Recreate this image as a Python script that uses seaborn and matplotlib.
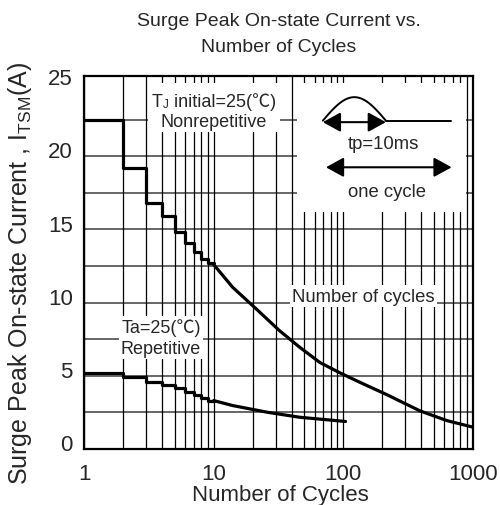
import numpy as np
import pandas as pd
import matplotlib
matplotlib.use("Agg")
import matplotlib.pyplot as plt
import matplotlib.transforms as mtransforms
from matplotlib.patches import Rectangle
import seaborn as sns

# values
nonrep_step_cycles = [1, 2, 3, 4, 5, 6, 7, 8, 9, 10]
nonrep_step_current = [22.5, 19.2, 16.8, 15.9, 14.85, 14.05, 13.45, 13.0, 12.7, 12.7]
nonrep_cycles = [10, 14, 22, 32, 46, 66, 94, 134, 217, 389, 629, 1000]
nonrep_current = [12.6, 11.05, 9.45, 8.1, 6.95, 5.9, 5.2, 4.55, 3.7, 2.6, 1.93, 1.48]

rep_step_cycles = [1, 2, 3, 4, 5, 6, 7, 8, 9, 10]
rep_step_current = [5.2, 4.9, 4.6, 4.35, 4.15, 3.9, 3.7, 3.45, 3.3, 3.3]
rep_cycles = [10, 14, 26, 46, 104]
rep_current = [3.3, 2.96, 2.5, 2.16, 1.87]

y_ticks = [0, 5, 10, 15, 20, 25]
y_grid = [2.5, 5, 7.5, 10, 12.5, 15, 17.5, 20, 22.5]
x_ticks = [1, 10, 100, 1000]
x_ticklabels = ["1", "10", "100", "1000"]

sns.set_style("white")
plt.rcParams["font.family"] = ["Liberation Sans", "Noto Sans CJK SC", "DejaVu Sans"]
plt.rcParams["mathtext.default"] = "regular"

fig = plt.figure(figsize=(5, 5.06), dpi=100)
ax = fig.add_axes([0.168, 0.111, 0.778, 0.737])

lw = 2.3
sns.lineplot(x=nonrep_step_cycles, y=nonrep_step_current, drawstyle="steps-post",
             color="black", lw=lw, ax=ax, errorbar=None, zorder=5)
sns.lineplot(x=nonrep_cycles, y=nonrep_current, color="black", lw=lw, ax=ax,
             errorbar=None, zorder=5)
sns.lineplot(x=rep_step_cycles, y=rep_step_current, drawstyle="steps-post",
             color="black", lw=lw, ax=ax, errorbar=None, zorder=5)
sns.lineplot(x=rep_cycles, y=rep_current, color="black", lw=lw, ax=ax,
             errorbar=None, zorder=5)

ax.set_xscale("log")
ax.set_xlim(1, 1000)
ax.set_ylim(0, 25.5)
ax.set_xticks(x_ticks)
ax.set_xticklabels(x_ticklabels)
ax.set_yticks(y_ticks)
ax.tick_params(axis="both", which="both", length=0, labelsize=16)
ax.tick_params(axis="x", pad=10)
ax.tick_params(axis="y", pad=8)

# grid
ax.grid(True, which="both", axis="x", color="black", lw=0.9)
ax.grid(False, axis="y")
for g in y_grid:
    ax.axhline(g, color="#5a5a5a", lw=1.3, zorder=0.5)
ax.set_axisbelow(True)

for s in ax.spines.values():
    s.set_color("black")
    s.set_linewidth(1.6)

# nudge y tick labels upward a little
offset = mtransforms.ScaledTranslation(0, 5 / 72, fig.dpi_scale_trans)
for lab in ax.get_yticklabels():
    lab.set_transform(lab.get_transform() + offset)

ax.set_title("Surge Peak On-state Current vs.\nNumber of Cycles", fontsize=14,
             pad=18, linespacing=1.7)
ax.set_xlabel("Number of Cycles", fontsize=16)
ax.set_ylabel("Surge Peak On-state Current , I$_{TSM}$(A)", fontsize=18)
ax.xaxis.set_label_coords(0.506, -0.093)
ax.yaxis.set_label_coords(-0.129, 0.474)

# white boxes behind the inset sketch and the T_J note
ax.add_patch(Rectangle((44, 16.2), 890 - 44, 25 - 16.2, facecolor="white",
                       edgecolor="none", zorder=2))
ax.add_patch(Rectangle((3.11, 21.65), 32.5 - 3.11, 25 - 21.65, facecolor="white",
                       edgecolor="none", zorder=2))

bbox = dict(facecolor="white", edgecolor="none", pad=1.5)

t1 = ax.text(3.35, 23.45, "T", ha="left", va="baseline", fontsize=13, zorder=4)
t2 = ax.annotate("J", xy=(1, 0), xycoords=t1, ha="left", va="bottom",
                 fontsize=8.5, zorder=4)
ax.annotate(" initial=25(℃)", xy=(1, 0), xycoords=(t2, t1), ha="left",
            va="bottom", fontsize=13, zorder=4)
ax.text(10, 22.4, "Nonrepetitive", ha="center", va="center", fontsize=13, zorder=4)

ax.text(3.92, 7.6, "Ta=25(℃)\nRepetitive", ha="center", va="center",
        fontsize=13, bbox=bbox, zorder=3, linespacing=1.25)
ax.text(143, 10.45, "Number of cycles", ha="center", va="center",
        fontsize=13.3, bbox=bbox, zorder=3)

# waveform sketch in the inset (axes fraction)
t = np.linspace(0, np.pi, 60)
wx = 0.614 + (0.776 - 0.614) * t / np.pi
wy = 0.880 + 0.063 * np.sin(t)
ax.plot(wx, wy, color="black", lw=1.4, transform=ax.transAxes, zorder=4)
ax.plot([0.776, 0.943], [0.880, 0.880], color="black", lw=1.4,
        transform=ax.transAxes, zorder=4)

arrow = dict(arrowstyle="<|-|>,head_length=0.4,head_width=0.22", color="black",
             lw=1.5, mutation_scale=27, shrinkA=0, shrinkB=0)
ax.annotate("", xy=(0.776, 0.876), xytext=(0.614, 0.876), xycoords="axes fraction",
            arrowprops=arrow, zorder=4)
ax.annotate("", xy=(0.945, 0.755), xytext=(0.622, 0.755), xycoords="axes fraction",
            arrowprops=arrow, zorder=4)
ax.text(0.771, 0.818, "tp=10ms", transform=ax.transAxes, ha="center", va="center",
        fontsize=13.3, zorder=4)
ax.text(0.779, 0.689, "one cycle", transform=ax.transAxes, ha="center", va="center",
        fontsize=13.3, zorder=4)

fig.savefig("out.png", dpi=100)
